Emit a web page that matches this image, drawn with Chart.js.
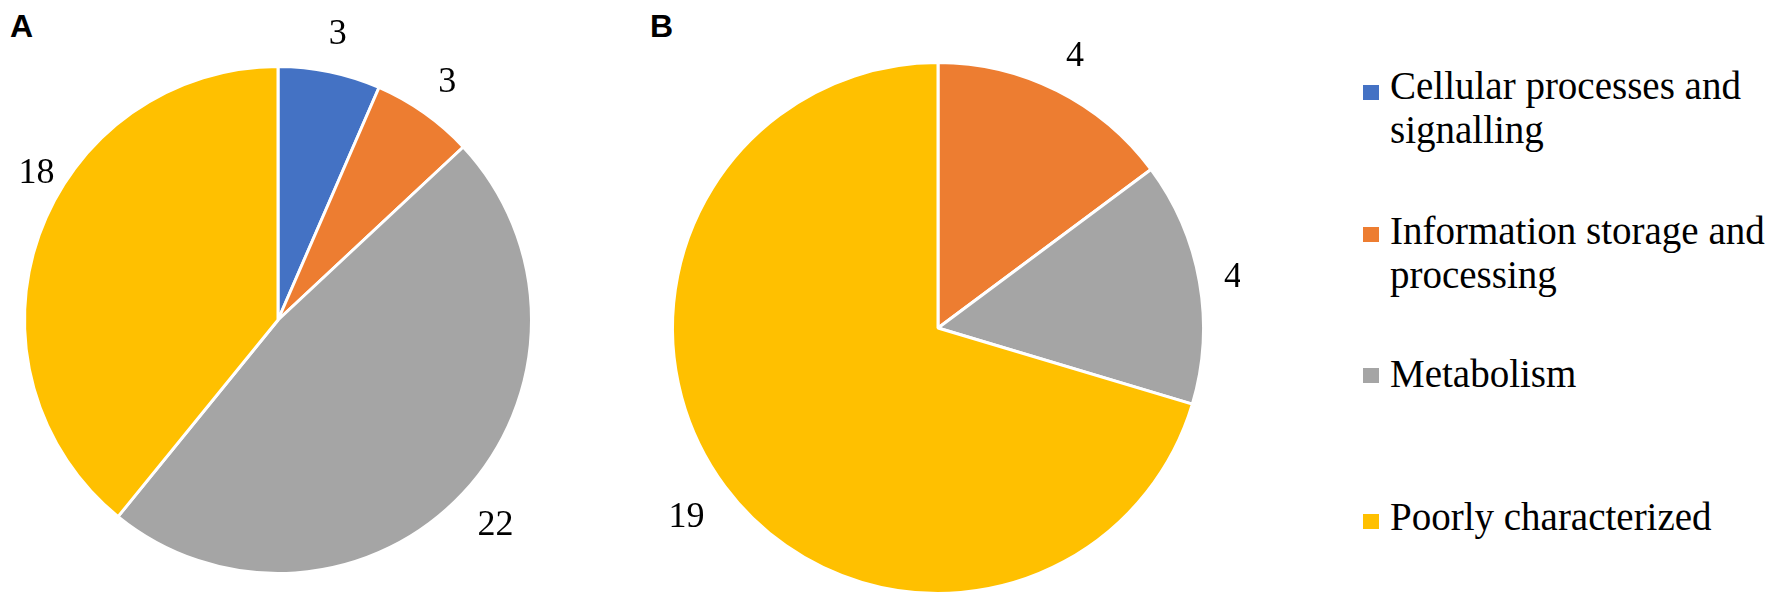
<!DOCTYPE html>
<html>
<head>
<meta charset="utf-8">
<script src="https://cdn.jsdelivr.net/npm/chart.js@4.4.1/dist/chart.umd.min.js"></script>
<style>
  html, body { margin: 0; padding: 0; background: #ffffff; }
  body { width: 1775px; height: 600px; position: relative; overflow: hidden; }
  .panel { position: absolute; font-family: "Liberation Sans", Arial, sans-serif; font-weight: bold; font-size: 32px; line-height: 1; color: #000; }
  .chartbox { position: absolute; top: 0; }
  #legend { position: absolute; left: 0; top: 0; }
  .item { position: absolute; left: 1390px; font-family: "Liberation Serif", "Times New Roman", serif; font-size: 39px; line-height: 44px; color: #000; white-space: nowrap; }
  .swatch { position: absolute; width: 16px; height: 15px; left: 1363px; }
</style>
</head>
<body>
<div class="panel" style="left:10px; top:10px;">A</div>
<div class="panel" style="left:650px; top:10px;">B</div>
<div class="chartbox" style="left:0px; width:556px; height:600px;"><canvas id="chartA" width="556" height="600"></canvas></div>
<div class="chartbox" style="left:640px; width:600px; height:600px;"><canvas id="chartB" width="600" height="600"></canvas></div>
<div id="legend"></div>
<script>
// ---- data ----
const categories = [
  "Cellular processes and signalling",
  "Information storage and processing",
  "Metabolism",
  "Poorly characterized"
];
const legendLines = [
  ["Cellular processes and", "signalling"],
  ["Information storage and", "processing"],
  ["Metabolism"],
  ["Poorly characterized"]
];
const valuesA = [3, 3, 22, 18];
const valuesB = [0, 4, 4, 19];
const colors = ["#4472C4", "#ED7D31", "#A5A5A5", "#FFC000"];

// ---- outside value labels ----
const outsideLabels = {
  id: 'outsideLabels',
  afterDatasetsDraw(chart, args, opts) {
    const ctx = chart.ctx;
    const meta = chart.getDatasetMeta(0);
    const data = chart.data.datasets[0].data;
    ctx.save();
    ctx.font = '36px "Liberation Serif", "Times New Roman", serif';
    ctx.fillStyle = '#000';
    ctx.textAlign = 'center';
    ctx.textBaseline = 'middle';
    meta.data.forEach((arc, i) => {
      if (!data[i]) return;
      const p = arc.getProps(['x', 'y', 'startAngle', 'endAngle', 'outerRadius'], true);
      const shift = (opts.angleShift && opts.angleShift[i]) || 0;
      const extra = (opts.extra && opts.extra[i] !== undefined) ? opts.extra[i] : 40;
      const mid = (p.startAngle + p.endAngle) / 2 + shift * Math.PI / 180;
      const r = p.outerRadius + extra;
      ctx.fillText(String(data[i]), p.x + Math.cos(mid) * r, p.y + Math.sin(mid) * r + 2);
    });
    ctx.restore();
  }
};

function makePie(id, values, padding, labelOpts) {
  return new Chart(document.getElementById(id), {
    type: 'pie',
    data: {
      labels: categories,
      datasets: [{
        data: values,
        backgroundColor: colors,
        borderColor: '#ffffff',
        borderWidth: 3,
        hoverOffset: 0
      }]
    },
    options: {
      responsive: false,
      animation: false,
      events: [],
      layout: { padding: padding },
      plugins: {
        legend: { display: false },
        tooltip: { enabled: false },
        outsideLabels: labelOpts
      }
    },
    plugins: [outsideLabels]
  });
}

makePie('chartA', valuesA, { left: 23, right: 23, top: 65, bottom: 25 },
  { extra: [40, 40, 44, 30], angleShift: [0, 0, 0, 12] });
makePie('chartB', valuesB, { left: 31, right: 35, top: 61, bottom: 5 },
  { extra: [40, 40, 34, 48], angleShift: [0, 0, 0, 0] });

// ---- legend (built from the data arrays) ----
const legend = document.getElementById('legend');
const itemTops = [64, 209, 352, 495];
const swatchTops = [85, 227, 368, 514];
categories.forEach((c, i) => {
  const sw = document.createElement('div');
  sw.className = 'swatch';
  sw.style.top = swatchTops[i] + 'px';
  sw.style.background = colors[i];
  legend.appendChild(sw);
  const it = document.createElement('div');
  it.className = 'item';
  it.style.top = itemTops[i] + 'px';
  it.innerHTML = legendLines[i].join('<br>');
  legend.appendChild(it);
});
</script>
</body>
</html>
